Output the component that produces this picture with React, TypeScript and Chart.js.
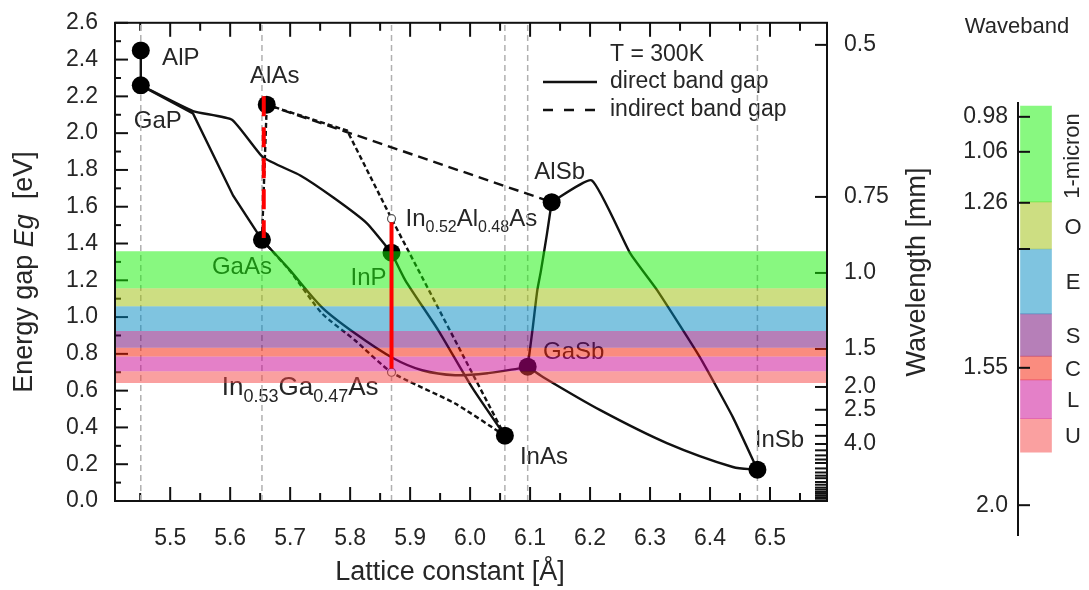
import React, { useEffect, useRef } from 'react';
import { Chart, registerables } from 'chart.js';

Chart.register(...registerables);

const FONT = '"Liberation Sans", Arial, Helvetica, sans-serif';
const TEXT = '#262626';
const HC = 1.24; // eV·µm, photon energy <-> wavelength

// ---------- axes ----------
const X_MIN = 5.408;
const X_MAX = 6.595;
const Y_MIN = 0;
const Y_MAX = 2.6;
const latticeTicks = [5.5, 5.6, 5.7, 5.8, 5.9, 6.0, 6.1, 6.2, 6.3, 6.4, 6.5];
const gapTicks = [0, 0.2, 0.4, 0.6, 0.8, 1.0, 1.2, 1.4, 1.6, 1.8, 2.0, 2.2, 2.4, 2.6];
const wavelengthLabelled = [0.5, 0.75, 1.0, 1.5, 2.0, 2.5, 4.0];
const wavelengthLabels = ['0.5', '0.75', '1.0', '1.5', '2.0', '2.5', '4.0'];
const wavelengthUnlabelled = [3.0, 3.5, 4.5, 5, 5.5, 6, 7, 8, 9, 10, 12, 14, 17, 20, 25, 30, 40, 60, 100];

// ---------- binary compounds ----------
const compounds = ['AlP', 'GaP', 'AlAs', 'GaAs', 'InP', 'AlSb', 'GaSb', 'InAs', 'InSb'];
const compoundLattice = [5.451, 5.451, 5.661, 5.653, 5.869, 6.136, 6.096, 6.058, 6.479];
const compoundGap = [2.45, 2.26, 2.155, 1.42, 1.35, 1.625, 0.73, 0.355, 0.17];

// ---------- lattice-matched ternaries (open circles) ----------
const ternaryLattice = [5.869, 5.869];
const ternaryGap = [1.535, 0.70];

// ---------- alloy curves ----------
const alGaP_a = [5.451, 5.451];
const alGaP_eg = [2.45, 2.26];
const gaAsP_a = [5.451, 5.538, 5.605, 5.653];
const gaAsP_eg = [2.26, 2.107, 1.66, 1.42];
const gaInP_a = [5.451, 5.538, 5.603, 5.655, 5.717, 5.772, 5.828, 5.869];
const gaInP_eg = [2.26, 2.12, 2.073, 1.868, 1.77, 1.65, 1.51, 1.35];
const gaAsSb_a = [5.653, 5.697, 5.753, 5.808, 5.872, 5.92, 5.975, 6.03, 6.08, 6.096];
const gaAsSb_eg = [1.42, 1.265, 1.053, 0.912, 0.776, 0.711, 0.684, 0.695, 0.72, 0.73];
const gaInAs_a = [5.653, 5.70, 5.753, 5.808, 5.869, 5.975, 6.058];
const gaInAs_eg = [1.42, 1.25, 1.02, 0.874, 0.70, 0.53, 0.355];
const inAsP_a = [5.869, 5.892, 5.947, 6.003, 6.058];
const inAsP_eg = [1.35, 1.20, 0.928, 0.619, 0.355];
const inAlAs_a = [5.661, 5.795, 5.869, 6.058];
const inAlAs_eg = [2.155, 2.014, 1.535, 0.355];
const alAsSb_a = [5.661, 6.136];
const alAsSb_eg = [2.155, 1.625];
const alGaAs_a = [5.653, 5.661];
const alGaAs_eg = [1.42, 2.155];
const alGaSb_a = [6.136, 6.128, 6.118, 6.112, 6.104, 6.096];
const alGaSb_eg = [1.625, 1.45, 1.25, 1.145, 0.93, 0.73];
const gaInSb_a = [6.096, 6.122, 6.217, 6.328, 6.438, 6.479];
const gaInSb_eg = [0.73, 0.673, 0.494, 0.315, 0.185, 0.17];
const alInSb_a = [6.136, 6.203, 6.267, 6.312, 6.383, 6.438, 6.479];
const alInSb_eg = [1.625, 1.743, 1.346, 1.145, 0.782, 0.456, 0.17];

// ---------- vertical reference lines & red markers ----------
const refLattice = [5.451, 5.653, 5.869, 6.058, 6.096, 6.479];
const redDashed_a = [5.656, 5.656];
const redDashed_eg = [2.2, 1.43];
const redSolid_a = [5.869, 5.869];
const redSolid_eg = [1.515, 0.72];

// ---------- telecom wavebands (main plot, in eV) ----------
const bandNames = ['1-micron', 'O', 'E', 'S', 'C', 'L', 'U'];
const bandGapTop = [1.358, 1.157, 1.059, 0.924, 0.833, 0.785, 0.705];
const bandGapBottom = [1.157, 1.059, 0.924, 0.833, 0.785, 0.705, 0.641];
const bandFill = [
  'rgba(17,241,1,0.5)',
  'rgba(155,189,5,0.5)',
  'rgba(0,137,193,0.5)',
  'rgba(109,0,113,0.5)',
  'rgba(245,25,0,0.5)',
  'rgba(201,1,145,0.5)',
  'rgba(245,65,65,0.5)',
];

// ---------- waveband ruler (side panel, % along the ruler) ----------
const rulerStart = [0.7, 22.9, 33.8, 48.8, 58.6, 64.1, 73.1];
const rulerEnd = [22.9, 33.8, 48.8, 58.6, 64.1, 73.1, 80.8];
const rulerTickPos = [3.2, 11.3, 23.1, 33.8, 61.3, 93.1];
const rulerTickLabels = ['0.98', '1.06', '1.26', '', '1.55', '2.0'];

// ---------- label styles ----------
const labelOffset: Record<string, [number, number]> = {
  AlP: [40, 8], GaP: [17, 36], AlAs: [8, -28], GaAs: [-20, 28], InP: [-23, 26],
  AlSb: [8, -30], GaSb: [46, -14], InAs: [39, 22], InSb: [22, -29],
};

type Seg = { t: string; sub?: boolean; italic?: boolean };

const xy = (a: number[], e: number[]) => a.map((v, i) => ({ x: v, y: e[i] }));

function segFont(s: Seg, size: number, sub: number) {
  return `${s.italic ? 'italic ' : ''}${s.sub ? sub : size}px ${FONT}`;
}
function richWidth(ctx: CanvasRenderingContext2D, segs: Seg[], size: number, sub: number) {
  let w = 0;
  for (const s of segs) { ctx.font = segFont(s, size, sub); w += ctx.measureText(s.t).width; }
  return w;
}
function drawRich(ctx: CanvasRenderingContext2D, segs: Seg[], x: number, y: number, size: number, sub: number, subDy: number) {
  let cx = x;
  ctx.textAlign = 'left';
  ctx.textBaseline = 'middle';
  for (const s of segs) {
    ctx.font = segFont(s, size, sub);
    ctx.fillText(s.t, cx, s.sub ? y + subDy : y);
    cx += ctx.measureText(s.t).width;
  }
}

const mainDecor = {
  id: 'mainDecor',
  beforeDatasetsDraw(chart: any) {
    const { ctx, chartArea: ca, scales } = chart;
    const xs = scales.x;
    const ys = scales.y;
    ctx.save();
    ctx.strokeStyle = '#111';
    ctx.lineWidth = 2;
    ctx.setLineDash([]);
    const line = (x1: number, y1: number, x2: number, y2: number) => {
      ctx.beginPath(); ctx.moveTo(x1, y1); ctx.lineTo(x2, y2); ctx.stroke();
    };
    // x ticks (bottom & top, inward)
    const xMinor = [...latticeTicks.map((v) => v - 0.05), latticeTicks[latticeTicks.length - 1] + 0.05]
      .filter((v) => v > X_MIN && v < X_MAX);
    for (const v of latticeTicks) {
      const p = xs.getPixelForValue(v);
      line(p, ca.bottom, p, ca.bottom - 14);
      line(p, ca.top, p, ca.top + 14);
    }
    for (const v of xMinor) {
      const p = xs.getPixelForValue(v);
      line(p, ca.bottom, p, ca.bottom - 8);
      line(p, ca.top, p, ca.top + 8);
    }
    // y ticks (left)
    for (const v of gapTicks) {
      const p = ys.getPixelForValue(v);
      line(ca.left, p, ca.left + 13, p);
    }
    for (const v of gapTicks.slice(0, -1)) {
      const p = ys.getPixelForValue(v + 0.1);
      line(ca.left, p, ca.left + 6, p);
    }
    // wavelength ticks (right)
    for (const l of [...wavelengthLabelled, ...wavelengthUnlabelled]) {
      const p = ys.getPixelForValue(HC / l);
      line(ca.right, p, ca.right - 12, p);
    }

    // compound labels
    ctx.fillStyle = TEXT;
    ctx.textAlign = 'center';
    ctx.textBaseline = 'middle';
    ctx.font = `24px ${FONT}`;
    compounds.forEach((n, i) => {
      const px = xs.getPixelForValue(compoundLattice[i]);
      const py = ys.getPixelForValue(compoundGap[i]);
      const [dx, dy] = labelOffset[n];
      ctx.fillText(n, px + dx, py + dy);
    });
    // ternary labels
    {
      const px = xs.getPixelForValue(ternaryLattice[0]);
      const py = ys.getPixelForValue(ternaryGap[0]);
      drawRich(ctx, [{ t: 'In' }, { t: '0.52', sub: true }, { t: 'Al' }, { t: '0.48', sub: true }, { t: 'As' }],
        px + 14, py + 1, 24, 16, 8);
    }
    {
      const px = xs.getPixelForValue(ternaryLattice[1]);
      const py = ys.getPixelForValue(ternaryGap[1]);
      const segs: Seg[] = [{ t: 'In' }, { t: '0.53', sub: true }, { t: 'Ga' }, { t: '0.47', sub: true }, { t: 'As' }];
      const w = richWidth(ctx, segs, 26, 18);
      drawRich(ctx, segs, px - 13 - w, py + 16, 26, 18, 9);
    }

    // legend
    ctx.fillStyle = TEXT;
    ctx.font = `23px ${FONT}`;
    ctx.textAlign = 'left';
    ctx.textBaseline = 'middle';
    ctx.fillText('T = 300K', 610, 55);
    ctx.fillText('direct band gap', 610, 82);
    ctx.fillText('indirect band gap', 610, 110);
    ctx.strokeStyle = '#111';
    ctx.lineWidth = 2.5;
    line(543, 82, 597, 82);
    ctx.setLineDash([10, 11]);
    line(543, 110, 597, 110);
    ctx.setLineDash([]);

    // axis titles
    ctx.fillStyle = TEXT;
    {
      const segs: Seg[] = [{ t: 'Energy gap ' }, { t: 'E', italic: true }, { t: 'g', italic: true }, { t: '  [eV]' }];
      const w = richWidth(ctx, segs, 27, 27);
      ctx.save();
      ctx.translate(25, 272);
      ctx.rotate(-Math.PI / 2);
      drawRich(ctx, segs, -w / 2, 0, 27, 27, 0);
      ctx.restore();
    }
    ctx.save();
    ctx.translate(918, 272);
    ctx.rotate(-Math.PI / 2);
    ctx.font = `27px ${FONT}`;
    ctx.textAlign = 'center';
    ctx.textBaseline = 'middle';
    ctx.fillText('Wavelength [mm]', 0, 0);
    ctx.restore();
    ctx.font = `27px ${FONT}`;
    ctx.textAlign = 'center';
    ctx.textBaseline = 'middle';
    ctx.fillText('Lattice constant [Å]', 450, 573);
    ctx.restore();
  },
  afterDatasetsDraw(chart: any) {
    const { ctx, chartArea: ca } = chart;
    ctx.save();
    ctx.strokeStyle = '#111';
    ctx.lineWidth = 2;
    ctx.setLineDash([]);
    ctx.strokeRect(ca.left, ca.top, ca.right - ca.left, ca.bottom - ca.top);
    ctx.restore();
  },
};

function curve(a: number[], e: number[], dash: number[], tension = 0) {
  return {
    type: 'line',
    data: xy(a, e),
    borderColor: '#111',
    borderWidth: 2.4,
    borderDash: dash,
    pointRadius: 0,
    tension,
    fill: false,
    order: 40,
  };
}

function mainConfig(): any {
  const datasets: any[] = [];
  refLattice.forEach((a) => {
    datasets.push({
      type: 'line', data: xy([a, a], [Y_MIN, Y_MAX]), borderColor: '#b0b0b0', borderWidth: 1.5,
      borderDash: [6, 4], pointRadius: 0, fill: false, order: 50,
    });
  });
  datasets.push(curve(alGaP_a, alGaP_eg, []));
  datasets.push(curve(gaAsP_a, gaAsP_eg, []));
  datasets.push(curve(gaInP_a, gaInP_eg, [], 0.15));
  datasets.push(curve(gaAsSb_a, gaAsSb_eg, [], 0.3));
  datasets.push(curve(gaInAs_a, gaInAs_eg, [5, 3], 0.2));
  datasets.push(curve(inAsP_a, inAsP_eg, [], 0.2));
  datasets.push(curve(inAlAs_a, inAlAs_eg, [5, 3]));
  datasets.push(curve(alAsSb_a, alAsSb_eg, [10, 6]));
  datasets.push(curve(alGaAs_a, alGaAs_eg, [5, 3]));
  datasets.push(curve(alGaSb_a, alGaSb_eg, [], 0.2));
  datasets.push(curve(gaInSb_a, gaInSb_eg, [], 0.3));
  datasets.push(curve(alInSb_a, alInSb_eg, [], 0.15));
  datasets.push({
    type: 'line', data: xy(compoundLattice, compoundGap), showLine: false, pointRadius: 9,
    pointBackgroundColor: '#000', pointBorderColor: '#000', pointBorderWidth: 0, order: 30,
  });
  datasets.push({
    type: 'line', data: xy(ternaryLattice, ternaryGap), showLine: false, pointRadius: 4,
    pointBackgroundColor: '#fff', pointBorderColor: '#555', pointBorderWidth: 1.2, order: 30,
  });
  bandNames.forEach((n, i) => {
    datasets.push({
      type: 'line', label: n, data: xy([X_MIN, X_MAX], [bandGapTop[i], bandGapTop[i]]),
      borderColor: 'transparent', borderWidth: 0, pointRadius: 0, backgroundColor: bandFill[i],
      fill: { value: bandGapBottom[i] }, order: 20,
    });
  });
  datasets.push({
    type: 'line', data: xy(redDashed_a, redDashed_eg), borderColor: '#ff0000', borderWidth: 4,
    borderDash: [20, 11], pointRadius: 0, fill: false, order: 10,
  });
  datasets.push({
    type: 'line', data: xy(redSolid_a, redSolid_eg), borderColor: '#ff0000', borderWidth: 4,
    pointRadius: 0, fill: false, order: 10,
  });

  const tickFont = { family: FONT, size: 23 };
  return {
    type: 'line',
    data: { datasets },
    options: {
      responsive: false,
      animation: false,
      events: [],
      layout: { padding: { top: 22, left: 0, right: 0, bottom: 0 } },
      plugins: { legend: { display: false }, tooltip: { enabled: false } },
      scales: {
        x: {
          type: 'linear', position: 'bottom', min: X_MIN, max: X_MAX,
          afterBuildTicks: (s: any) => { s.ticks = latticeTicks.map((v) => ({ value: v })); },
          afterFit: (s: any) => { s.height = 89; },
          ticks: { callback: (v: any) => Number(v).toFixed(1), font: tickFont, color: TEXT, padding: 16, maxRotation: 0, autoSkip: false },
          grid: { display: false }, border: { display: false },
        },
        y: {
          type: 'linear', position: 'left', min: Y_MIN, max: Y_MAX,
          afterBuildTicks: (s: any) => { s.ticks = gapTicks.map((v) => ({ value: v })); },
          afterFit: (s: any) => { s.width = 115; },
          ticks: { callback: (v: any) => Number(v).toFixed(1), font: tickFont, color: TEXT, padding: 9, autoSkip: false },
          grid: { display: false }, border: { display: false },
        },
        y2: {
          type: 'linear', position: 'right', min: Y_MIN, max: Y_MAX,
          afterBuildTicks: (s: any) => { s.ticks = wavelengthLabelled.map((l) => ({ value: HC / l })); },
          afterFit: (s: any) => { s.width = 118; },
          ticks: { callback: (_v: any, i: number) => wavelengthLabels[i], font: tickFont, color: TEXT, padding: 9, autoSkip: false },
          grid: { display: false }, border: { display: false },
        },
      },
    },
    plugins: [mainDecor],
  };
}

const sideDecor = {
  id: 'sideDecor',
  afterDatasetsDraw(chart: any) {
    const { ctx, chartArea: ca, scales } = chart;
    const ys = scales.y;
    ctx.save();
    ctx.strokeStyle = '#111';
    ctx.lineWidth = 2;
    rulerTickPos.forEach((v) => {
      const p = ys.getPixelForValue(v);
      ctx.beginPath(); ctx.moveTo(ca.left, p); ctx.lineTo(ca.left + 12, p); ctx.stroke();
    });
    ctx.fillStyle = TEXT;
    ctx.textBaseline = 'middle';
    ctx.textAlign = 'center';
    ctx.font = `22px ${FONT}`;
    ctx.fillText('Waveband', chart.width / 2, 27);
    bandNames.forEach((n, i) => {
      const mid = ys.getPixelForValue((rulerStart[i] + rulerEnd[i]) / 2) + 2;
      const x = ca.right + 19;
      if (i === 0) {
        ctx.save();
        ctx.translate(x, mid);
        ctx.rotate(-Math.PI / 2);
        ctx.fillText(n, 0, 0);
        ctx.restore();
      } else {
        ctx.fillText(n, x, mid);
      }
    });
    ctx.restore();
  },
};

function sideConfig(): any {
  return {
    type: 'bar',
    data: {
      labels: [''],
      datasets: bandNames.map((n, i) => ({
        label: n,
        data: [[rulerStart[i], rulerEnd[i]]],
        backgroundColor: bandFill[i],
        borderWidth: 0,
        grouped: false,
        barThickness: 31,
      })),
    },
    options: {
      responsive: false,
      animation: false,
      events: [],
      layout: { padding: { top: 103, bottom: 55, right: 35, left: 0 } },
      plugins: { legend: { display: false }, tooltip: { enabled: false } },
      scales: {
        x: { display: false },
        y: {
          type: 'linear', reverse: true, min: 0, max: 100,
          afterBuildTicks: (s: any) => { s.ticks = rulerTickPos.map((v) => ({ value: v })); },
          afterFit: (s: any) => { s.width = 73; },
          ticks: { callback: (_v: any, i: number) => rulerTickLabels[i], font: { family: FONT, size: 23 }, color: TEXT, padding: 10, autoSkip: false },
          grid: { display: false, drawTicks: false },
          border: { display: true, color: '#111', width: 2 },
        },
      },
    },
    plugins: [sideDecor],
  };
}

export default function App() {
  const mainRef = useRef<HTMLCanvasElement>(null);
  const sideRef = useRef<HTMLCanvasElement>(null);
  useEffect(() => {
    const main = new Chart(mainRef.current as HTMLCanvasElement, mainConfig());
    const side = new Chart(sideRef.current as HTMLCanvasElement, sideConfig());
    return () => { main.destroy(); side.destroy(); };
  }, []);
  return (
    <div style={{ position: 'absolute', left: 0, top: 0, width: 1089, height: 590, background: '#fff', overflow: 'hidden' }}>
      <canvas ref={mainRef} width={945} height={590} style={{ position: 'absolute', left: 0, top: 0 }} />
      <canvas ref={sideRef} width={144} height={590} style={{ position: 'absolute', left: 945, top: 0 }} />
    </div>
  );
}
